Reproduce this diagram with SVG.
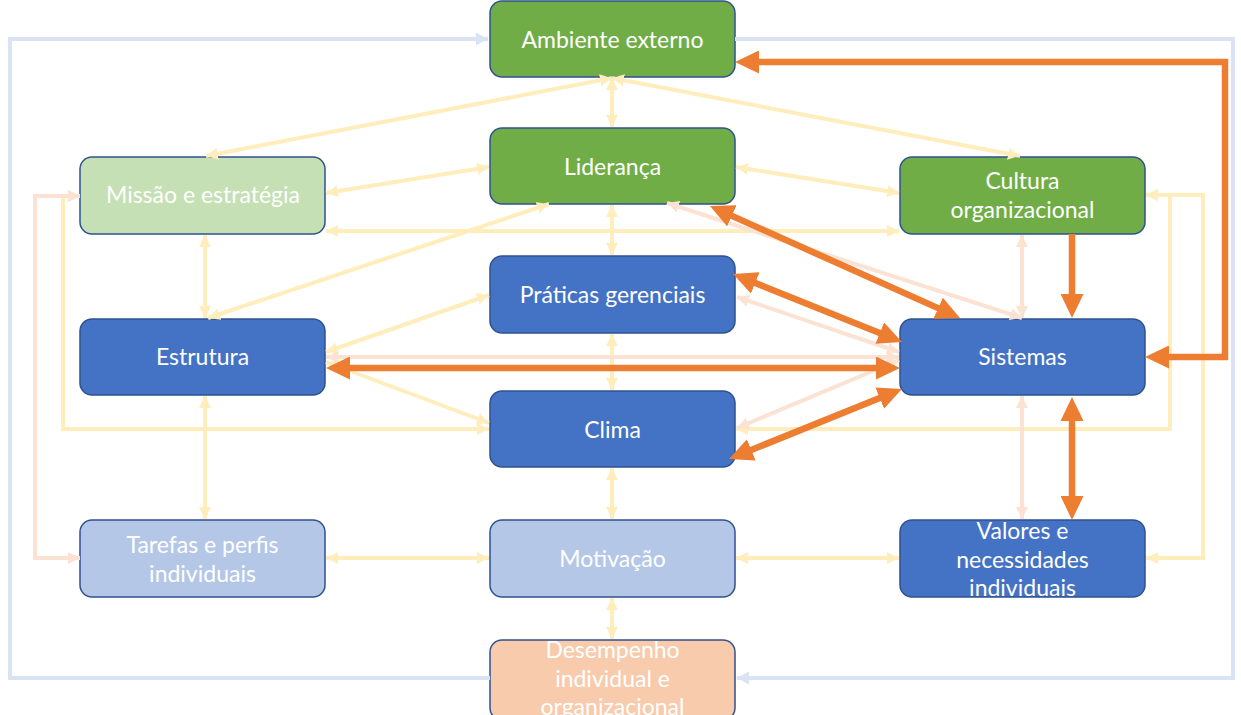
<svg xmlns="http://www.w3.org/2000/svg" width="1241" height="715" viewBox="0 0 1241 715">
  <style>
    .node rect { stroke: #2F528F; stroke-width: 1.5; }
    .green { fill: #70AD47; }
    .lgreen { fill: #C5E0B4; }
    .blue { fill: #4472C4; }
    .lblue { fill: #B4C7E7; }
    .peach { fill: #F8CBAD; }
    .node text { fill: #FFFFFF; font-family: "Lato", "Liberation Sans", sans-serif; font-size: 23px; text-anchor: middle; }
    .c { fill: none; stroke-linejoin: miter; }
    .y { stroke: #FFEDBC; stroke-width: 4; marker-start: url(#ya); marker-end: url(#ya); }
    .p { stroke: #FBE2D3; stroke-width: 4; marker-start: url(#pa); marker-end: url(#pa); }
    .b { stroke: #DAE3F3; stroke-width: 4; marker-end: url(#ba); }
    .o { stroke: #ED7D31; stroke-width: 6.5; marker-start: url(#oa); marker-end: url(#oa); }
    .o1 { stroke: #ED7D31; stroke-width: 6.5; marker-end: url(#oa); }
  </style>
  <defs>
    <marker id="ya" markerUnits="userSpaceOnUse" markerWidth="12" markerHeight="12" refX="12" refY="6" orient="auto-start-reverse">
      <path d="M0,0 L12,6 L0,12 z" fill="#FFEDBC"/>
    </marker>
    <marker id="pa" markerUnits="userSpaceOnUse" markerWidth="12" markerHeight="12" refX="12" refY="6" orient="auto-start-reverse">
      <path d="M0,0 L12,6 L0,12 z" fill="#FBE2D3"/>
    </marker>
    <marker id="ba" markerUnits="userSpaceOnUse" markerWidth="12" markerHeight="13" refX="12" refY="6.5" orient="auto">
      <path d="M0,0 L12,6.5 L0,13 z" fill="#DAE3F3"/>
    </marker>
    <marker id="oa" markerUnits="userSpaceOnUse" markerWidth="24" markerHeight="23" refX="14" refY="11.5" orient="auto-start-reverse">
      <path d="M0,0 L24,11.5 L0,23 z" fill="#ED7D31"/>
    </marker>
  </defs>

  <!-- nodes -->
  <g id="ambiente-externo" class="node">
    <rect class="green" x="490" y="1" width="245" height="76" rx="12"/>
    <text x="612.5" y="48">Ambiente externo</text>
  </g>
  <g id="lideranca" class="node">
    <rect class="green" x="490" y="128" width="245" height="76" rx="12"/>
    <text x="612.5" y="175">Liderança</text>
  </g>
  <g id="missao-estrategia" class="node">
    <rect class="lgreen" x="80" y="157" width="245" height="77" rx="12"/>
    <text x="203" y="203">Missão e estratégia</text>
  </g>
  <g id="cultura-organizacional" class="node">
    <rect class="green" x="900" y="157" width="245" height="77" rx="12"/>
    <text x="1022.5" y="189">Cultura</text>
    <text x="1022.5" y="218">organizacional</text>
  </g>
  <g id="praticas-gerenciais" class="node">
    <rect class="blue" x="490" y="256" width="245" height="77" rx="12"/>
    <text x="612.5" y="303">Práticas gerenciais</text>
  </g>
  <g id="estrutura" class="node">
    <rect class="blue" x="80" y="319" width="245" height="76" rx="12"/>
    <text x="202.5" y="365">Estrutura</text>
  </g>
  <g id="sistemas" class="node">
    <rect class="blue" x="900" y="319" width="245" height="76" rx="12"/>
    <text x="1022.5" y="365">Sistemas</text>
  </g>
  <g id="clima" class="node">
    <rect class="blue" x="490" y="391" width="245" height="76" rx="12"/>
    <text x="612.5" y="438">Clima</text>
  </g>
  <g id="tarefas-perfis" class="node">
    <rect class="lblue" x="80" y="520" width="245" height="77" rx="12"/>
    <text x="202.5" y="553">Tarefas e perfis</text>
    <text x="202.5" y="582">individuais</text>
  </g>
  <g id="motivacao" class="node">
    <rect class="lblue" x="490" y="520" width="245" height="77" rx="12"/>
    <text x="612.5" y="567">Motivação</text>
  </g>
  <g id="valores-necessidades" class="node">
    <rect class="blue" x="900" y="520" width="245" height="77" rx="12"/>
    <text x="1022.5" y="539">Valores e</text>
    <text x="1022.5" y="568">necessidades</text>
    <text x="1022.5" y="596">individuais</text>
  </g>
  <g id="desempenho" class="node">
    <rect class="peach" x="490" y="640" width="245" height="80" rx="12"/>
    <text x="612.5" y="658">Desempenho</text>
    <text x="612.5" y="687">individual e</text>
    <text x="612.5" y="715">organizacional</text>
  </g>

  <!-- connectors -->
  <g id="connectors">
    <!-- outer feedback frame -->
    <path class="c b" d="M490,678 H10 V39 H488"/>
    <path class="c b" d="M735,39 H1233 V678 H737"/>

    <!-- pale yellow links -->
    <path class="c y" d="M612,78 L206,156"/>
    <path class="c y" d="M612,78 L612,127"/>
    <path class="c y" d="M612,78 L1020,156"/>
    <path class="c y" d="M326,193 L489,167"/>
    <path class="c y" d="M736,167 L899,193"/>
    <path class="c y" d="M326,231 L899,231"/>
    <path class="c y" d="M612,205 L612,255"/>
    <path class="c y" d="M208,318 L549,204"/>
    <path class="c y" d="M205,235 L205,318"/>
    <path class="c y" d="M326,352 L489,295"/>
    <path class="c y" d="M326,362 L489,423"/>
    <path class="c y" d="M80,196 H63 V429 H489"/>
    <path class="c y" d="M1146,195 H1170 V429 H736"/>
    <path class="c y" d="M1146,195 H1203 V558 H1146"/>
    <path class="c y" d="M612,334 L612,390"/>
    <path class="c y" d="M205,396 L205,519"/>
    <path class="c y" d="M612,468 L612,519"/>
    <path class="c y" d="M326,558 L489,558"/>
    <path class="c y" d="M736,558 L899,558"/>
    <path class="c y" d="M612,598 L612,639"/>

    <!-- pale peach links -->
    <path class="c p" d="M80,196 H35 V558 H80"/>
    <path class="c p" d="M667,203 L1022,318"/>
    <path class="c p" d="M737,297 L899,352"/>
    <path class="c p" d="M326,357 L899,357"/>
    <path class="c p" d="M899,360 L737,428"/>
    <path class="c p" d="M1022,235 L1022,318"/>
    <path class="c p" d="M1022,396 L1022,519"/>

    <!-- strong orange links -->
    <path class="c o" d="M1155,357 H1225 V62 H745"/>
    <path class="c o" d="M719.1,210.1 L950.9,313.9"/>
    <path class="c o" d="M742.3,277.7 L892.7,338.3"/>
    <path class="c o" d="M336,368 L890,368"/>
    <path class="c o" d="M738.3,455.2 L892.7,392.8"/>
    <path class="c o1" d="M1072,234 L1072,308"/>
    <path class="c o" d="M1072,407 L1072,510"/>
  </g>
</svg>
